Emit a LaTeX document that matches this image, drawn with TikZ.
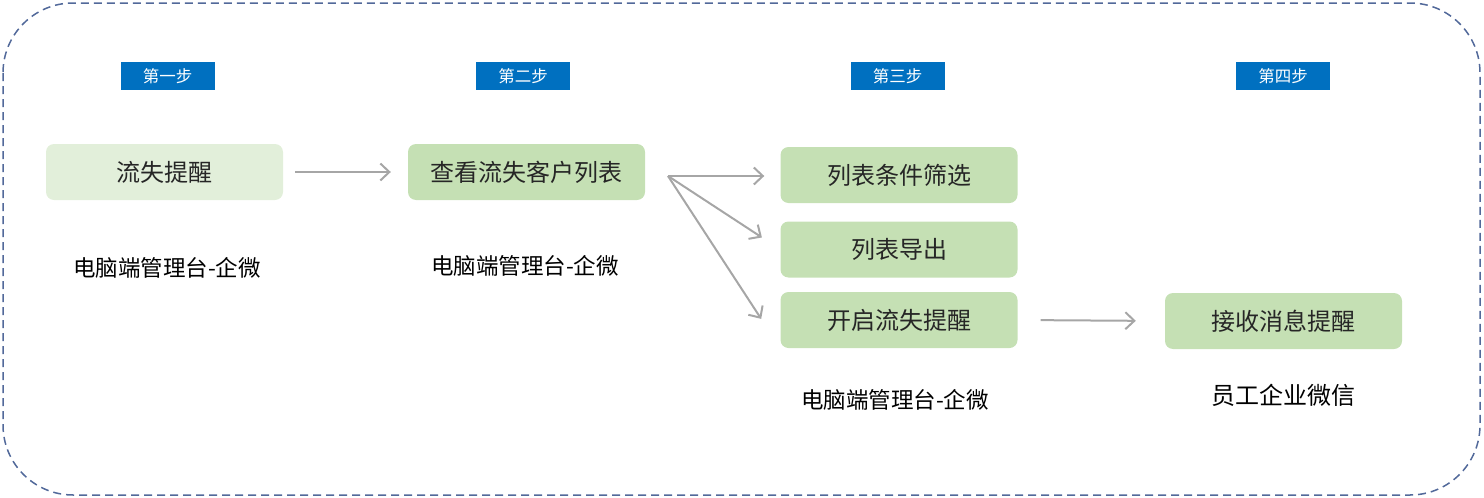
\documentclass[tikz,border=0pt]{standalone}
\usepackage{fontspec}
\setmainfont{Noto Sans CJK SC}
\usetikzlibrary{arrows.meta}
\definecolor{stepblue}{HTML}{0070C0}
\definecolor{lightgreen}{HTML}{E2EFDA}
\definecolor{midgreen}{HTML}{C5E0B4}
\definecolor{arrowgray}{HTML}{A6A6A6}
\definecolor{borderblue}{HTML}{52699A}
\definecolor{boxtext}{HTML}{262626}
\tikzset{
  steplabel/.style={fill=stepblue, text=white, minimum width=94pt, minimum height=28pt, inner sep=0pt, font=\fontsize{16.5}{18}\selectfont},
  greenbox/.style={fill=midgreen, rounded corners=8pt, minimum width=237pt, minimum height=56pt, inner sep=0pt, text=boxtext, font=\fontsize{24}{27}\selectfont},
  sublabel/.style={text=black, inner sep=0pt, font=\fontsize{22.5}{26}\selectfont},
  arr/.style={draw=arrowgray, line width=2pt, -{Straight Barb[length=9pt,width=17pt,line width=2pt]}},
}
\begin{document}
\begin{tikzpicture}[x=1pt,y=-1pt]
\useasboundingbox (0,0) rectangle (1484,498);
\draw[borderblue, line width=1.5pt, dash pattern=on 8pt off 5pt, rounded corners=70pt] (3,3) rectangle (1480,495);

\node[steplabel] (s1) at (167.5,76) {第一步};
\node[steplabel] (s2) at (523,76) {第二步};
\node[steplabel] (s3) at (897.5,76) {第三步};
\node[steplabel] (s4) at (1283,76) {第四步};

\node[greenbox, fill=lightgreen] (a) at (164.5,172) {流失提醒};
\node[greenbox] (b) at (526.5,172) {查看流失客户列表};
\node[greenbox] (c1) at (899,175) {列表条件筛选};
\node[greenbox] (c2) at (899,249.5) {列表导出};
\node[greenbox] (c3) at (899,320) {开启流失提醒};
\node[greenbox] (d) at (1283.5,321) {接收消息提醒};

\node[sublabel] (l1) at (167,268) {电脑端管理台-企微};
\node[sublabel] (l2) at (525,266) {电脑端管理台-企微};
\node[sublabel] (l3) at (895,400) {电脑端管理台-企微};
\node[sublabel, font=\fontsize{24}{27}\selectfont] (l4) at (1283,395) {员工企业微信};

\coordinate (hub) at (668,176);
\draw[arr, shorten <=12pt, shorten >=17pt] (a.east) -- (b.west);
\draw[arr, shorten >=16pt] (hub) -- (c1.west |- hub);
\draw[arr, shorten >=22pt] (hub) -- (c2.west);
\draw[arr, shorten >=35pt] (hub) -- (c3.south west);
\draw[arr, shorten <=23pt, shorten >=29pt] (c3.east) -- (d.west);
\end{tikzpicture}
\end{document}
